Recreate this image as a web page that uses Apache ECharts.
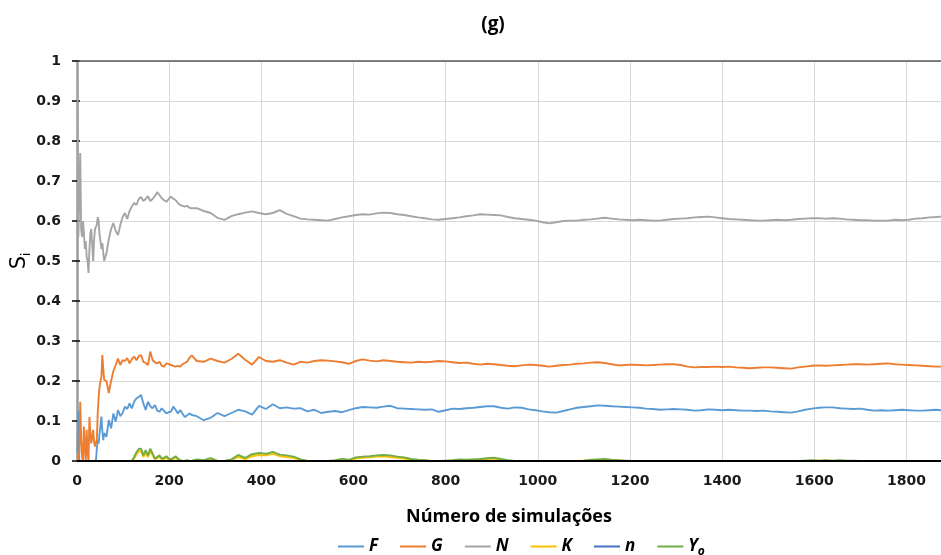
<!DOCTYPE html>
<html>
<head>
<meta charset="utf-8">
<script src="https://cdn.jsdelivr.net/npm/echarts@6/dist/echarts.min.js"></script>
<style>html,body{margin:0;padding:0;background:#fff}#c{width:941px;height:555px}</style>
</head>
<body>
<div id="c"></div>
<script>
// Number of simulations (x values)
const simulations = [
  1,3,5,7,9,11,13,15,17,19,
  21,23,25,27,29,31,33,35,37,39,
  41,43,45,47,49,51,53,55,57,59,
  64,69,74,79,84,89,94,99,104,109,
  114,119,124,129,134,139,144,149,154,159,
  164,169,174,179,184,189,194,199,204,209,
  214,219,224,229,234,239,244,249,
  260,275,290,305,320,335,350,365,380,395,
  410,425,440,455,470,485,500,515,530,545,
  560,575,590,605,620,635,650,665,680,695,
  710,725,740,755,770,785,800,815,830,845,
  860,875,890,905,920,935,950,965,980,995,
  1010,1025,1040,1055,1070,1085,1100,1115,1130,1145,
  1160,1175,1190,1205,1220,1235,1250,1265,1280,1295,
  1310,1325,1340,1355,1370,1385,1400,1415,1430,1445,
  1460,1475,1490,1505,1520,1535,1550,1565,1580,1595,
  1610,1625,1640,1655,1670,1685,1700,1715,1730,1745,
  1760,1775,1790,1805,1820,1835,1850,1865,1875
];

const F = [
  0.02,0.125,0,0,0,0,0,0,0,0,
  0,0,0,0,0,0,0,0,0,0,
  0,0.03,0.052,0.044,0.07,0.09,0.111,0.075,0.052,0.07,
  0.0608,0.1025,0.0817,0.119,0.0983,0.1275,0.112,0.12,0.136,0.13,
  0.144,0.1317,0.148,0.1567,0.16,0.165,0.144,0.1275,0.148,0.137,
  0.1317,0.14,0.126,0.1233,0.1317,0.125,0.119,0.122,0.1233,0.136,
  0.128,0.119,0.1275,0.118,0.11,0.114,0.119,0.115,
  0.112,0.102,0.108,0.120,0.112,0.120,0.128,0.124,0.116,0.138,
  0.130,0.142,0.132,0.134,0.131,0.132,0.124,0.128,0.120,0.123,
  0.125,0.122,0.127,0.132,0.135,0.134,0.133,0.136,0.138,0.132,
  0.131,0.130,0.129,0.128,0.129,0.123,0.127,0.131,0.130,0.132,
  0.133,0.135,0.137,0.137,0.133,0.131,0.134,0.133,0.129,0.127,
  0.124,0.122,0.121,0.125,0.129,0.133,0.135,0.137,0.139,0.138,
  0.137,0.136,0.135,0.134,0.133,0.131,0.130,0.128,0.129,0.130,
  0.129,0.128,0.126,0.127,0.129,0.128,0.127,0.128,0.127,0.126,
  0.126,0.125,0.126,0.124,0.123,0.122,0.121,0.124,0.128,0.131,
  0.133,0.134,0.134,0.132,0.131,0.130,0.131,0.128,0.126,0.127,
  0.126,0.127,0.128,0.127,0.126,0.126,0.127,0.128,0.127
];

const G = [
  0,0,0.02,0.148,0.06,0.01,0,0.086,0.03,0,
  0.078,0.02,0,0.11,0.07,0.044,0.06,0.078,0.05,0.036,
  0.045,0.052,0.12,0.16,0.186,0.20,0.211,0.265,0.23,0.2025,
  0.20,0.17,0.20,0.225,0.24,0.256,0.24,0.252,0.25,0.257,
  0.244,0.255,0.261,0.252,0.262,0.265,0.248,0.245,0.24,0.2735,
  0.2525,0.247,0.244,0.2483,0.238,0.236,0.244,0.242,0.24,0.238,
  0.236,0.238,0.236,0.242,0.245,0.2483,0.258,0.264,
  0.250,0.248,0.256,0.250,0.246,0.255,0.268,0.253,0.241,0.260,
  0.250,0.248,0.252,0.246,0.241,0.248,0.246,0.250,0.252,0.251,
  0.249,0.247,0.243,0.250,0.254,0.251,0.249,0.252,0.250,0.248,
  0.247,0.246,0.248,0.247,0.248,0.250,0.249,0.247,0.245,0.246,
  0.243,0.241,0.243,0.242,0.240,0.238,0.237,0.239,0.241,0.240,
  0.238,0.236,0.238,0.240,0.241,0.243,0.244,0.246,0.247,0.245,
  0.242,0.239,0.240,0.241,0.240,0.239,0.240,0.241,0.242,0.242,
  0.240,0.236,0.234,0.235,0.235,0.236,0.235,0.236,0.234,0.233,
  0.232,0.233,0.234,0.234,0.233,0.232,0.231,0.234,0.236,0.238,
  0.239,0.238,0.239,0.240,0.241,0.242,0.242,0.241,0.242,0.243,
  0.244,0.242,0.241,0.240,0.239,0.238,0.237,0.236,0.236
];

const N = [
  0.95,0.56,0.66,0.77,0.58,0.56,0.60,0.57,0.53,0.55,
  0.51,0.50,0.47,0.53,0.57,0.58,0.54,0.50,0.55,0.58,
  0.575,0.59,0.61,0.60,0.565,0.55,0.53,0.545,0.52,0.50,
  0.52,0.555,0.58,0.595,0.575,0.565,0.59,0.61,0.62,0.605,
  0.625,0.636,0.645,0.64,0.655,0.66,0.65,0.655,0.662,0.65,
  0.655,0.662,0.672,0.665,0.657,0.652,0.648,0.655,0.661,0.656,
  0.652,0.645,0.64,0.638,0.636,0.638,0.633,0.632,
  0.632,0.625,0.620,0.608,0.603,0.612,0.617,0.621,0.624,0.620,
  0.617,0.620,0.627,0.618,0.612,0.606,0.604,0.603,0.602,0.601,
  0.605,0.609,0.612,0.615,0.617,0.616,0.619,0.621,0.620,0.617,
  0.615,0.612,0.609,0.607,0.604,0.603,0.605,0.607,0.609,0.612,
  0.614,0.617,0.616,0.615,0.614,0.610,0.607,0.605,0.603,0.601,
  0.597,0.594,0.597,0.600,0.601,0.601,0.603,0.604,0.606,0.608,
  0.606,0.604,0.603,0.602,0.603,0.602,0.601,0.601,0.603,0.605,
  0.606,0.607,0.609,0.610,0.611,0.609,0.607,0.605,0.604,0.603,
  0.602,0.601,0.601,0.602,0.603,0.602,0.603,0.605,0.606,0.607,
  0.607,0.606,0.607,0.606,0.604,0.603,0.602,0.602,0.601,0.601,
  0.601,0.603,0.602,0.603,0.606,0.607,0.609,0.610,0.611
];

const K = [
  0,0,0,0,0,0,0,0,0,0,
  0,0,0,0,0,0,0,0,0,0,
  0,0,0,0,0,0,0,0,0,0,
  0,0,0,0,0,0,0,0,0,0,
  0,0,0.006,0.016,0.024,0.025,0.010,0.02,0.01,0.024,
  0.014,0.004,0.007,0.01,0.004,0.005,0.008,0.004,0.002,0.005,
  0.008,0.004,0.001,0,0,0.001,0,0,
  0.002,0.001,0.004,0,0,0.002,0.010,0.005,0.012,0.015,
  0.014,0.018,0.012,0.010,0.008,0.002,0,0,0,0,
  0.001,0.003,0.002,0.006,0.008,0.009,0.011,0.012,0.010,0.008,
  0.006,0.003,0.002,0.001,0,0,0,0.001,0.002,0.002,
  0.003,0.003,0.005,0.006,0.003,0.001,0,0,0,0,
  0,0,0,0,0,0,0.001,0.002,0.003,0.003,
  0.002,0.001,0,0,0,0,0,0,0,0,
  0,0,0,0,0,0,0,0,0,0,
  0,0,0,0,0,0,0,0,0,0.001,
  0.001,0.001,0,0.001,0,0,0,0,0,0,
  0,0,0,0,0,0,0,0,0
];

const n = [
  0,0,0,0,0,0,0,0,0,0,
  0,0,0,0,0,0,0,0,0,0,
  0,0,0,0,0,0,0,0,0,0,
  0,0,0,0,0,0,0,0,0,0,
  0,0,0,0,0,0,0,0,0,0,
  0,0,0,0,0,0,0,0,0,0,
  0,0,0,0,0,0,0,0,
  0,0,0,0,0,0,0,0,0,0,
  0,0,0,0,0,0,0,0,0,0,
  0,0,0,0,0,0,0,0,0,0,
  0,0,0,0,0,0,0,0,0,0,
  0,0,0,0,0,0,0,0,0,0,
  0,0,0,0,0,0,0,0,0,0,
  0,0,0,0,0,0,0,0,0,0,
  0,0,0,0,0,0,0,0,0,0,
  0,0,0,0,0,0,0,0,0,0,
  0,0,0,0,0,0,0,0,0,0,
  0,0,0,0,0,0,0,0,0
];

const Yo = [
  0,0,0,0,0,0,0,0,0,0,
  0,0,0,0,0,0,0,0,0,0,
  0,0,0,0,0,0,0,0,0,0,
  0,0,0,0,0,0,0,0,0,0,
  0,0,0.01,0.022,0.03,0.031,0.014,0.027,0.014,0.031,
  0.019,0.006,0.01,0.014,0.006,0.008,0.012,0.006,0.004,0.008,
  0.012,0.006,0.002,0,0,0.002,0,0,
  0.004,0.002,0.007,0,0,0.004,0.015,0.008,0.017,0.020,
  0.018,0.023,0.016,0.014,0.011,0.004,0,0,0,0,
  0.002,0.005,0.003,0.009,0.011,0.012,0.014,0.015,0.014,0.011,
  0.009,0.005,0.003,0.002,0,0,0.001,0.002,0.004,0.003,
  0.004,0.005,0.007,0.008,0.005,0.002,0,0,0,0,
  0,0,0,0,0,0,0.001,0.003,0.004,0.005,
  0.003,0.002,0.001,0,0,0,0,0,0,0,
  0,0,0,0,0,0,0,0,0,0,
  0,0,0,0,0,0,0,0,0.001,0.002,
  0.001,0.002,0.001,0.002,0.001,0.001,0,0,0,0,
  0,0,0,0,0,0,0,0,0
];

const seriesNames = ['F', 'G', 'N', 'K', 'n', 'Yo'];
const seriesValues = { F: F, G: G, N: N, K: K, n: n, Yo: Yo };
const colors = { F: '#5B9BD5', G: '#ED7D31', N: '#A5A5A5', K: '#FFC000', n: '#4472C4', Yo: '#70AD47' };

function pairs(vals) {
  return simulations.map((x, i) => [x, vals[i]]);
}

const chart = echarts.init(document.getElementById('c'), null, { renderer: 'canvas' });

const series = seriesNames.map((name) => ({
  name: name,
  type: 'line',
  data: pairs(seriesValues[name]),
  showSymbol: false,
  symbol: 'none',
  lineStyle: { width: 1.9, color: colors[name] },
  itemStyle: { color: colors[name] },
  emphasis: { disabled: true },
  animation: false
}));
series[series.length - 1].markLine = {
  silent: true,
  symbol: 'none',
  animation: false,
  label: { show: false },
  data: [
    { yAxis: 0, lineStyle: { color: '#000', width: 2, type: 'solid' } },
    { yAxis: 1, lineStyle: { color: '#595959', width: 1.5, type: 'solid' } }
  ]
};

const tickFont = { fontFamily: 'DejaVu Sans', fontWeight: 'bold', fontSize: 14, color: '#1a1a1a' };

chart.setOption({
  animation: false,
  backgroundColor: '#ffffff',
  title: {
    text: '(g)', left: 488, top: 10, textAlign: 'center',
    textStyle: { fontFamily: 'Open Sans', fontWeight: 'bold', fontSize: 19, color: '#000' }
  },
  grid: { left: 77, right: 0, top: 61, height: 400, containLabel: false, outerBoundsMode: 'none' },
  legend: {
    data: seriesNames,
    left: 333, top: 533,
    icon: 'rect', itemWidth: 26, itemHeight: 2, itemGap: 22,
    selectedMode: false,
    formatter: (name) => name === 'Yo' ? '{b|Y}{s|o}' : '{b|' + name + '}',
    textStyle: {
      color: '#000',
      rich: {
        b: { fontFamily: 'Open Sans', fontWeight: 'bold', fontStyle: 'italic', fontSize: 17, color: '#000', lineHeight: 22 },
        s: { fontFamily: 'Open Sans', fontWeight: 'bold', fontStyle: 'italic', fontSize: 12, color: '#000', lineHeight: 22, verticalAlign: 'bottom', padding: [6, 0, 0, 0] }
      }
    }
  },
  xAxis: [{
    type: 'value', min: 0, max: 1875, interval: 200,
    axisLine: { show: false },
    axisTick: { show: false },
    axisLabel: Object.assign({ margin: 13, showMaxLabel: false, formatter: (v) => String(v) }, tickFont),
    splitLine: { show: true, lineStyle: { color: '#d9d9d9', width: 1 } },
    name: 'Número de simulações',
    nameLocation: 'middle', nameGap: 47,
    nameTextStyle: { fontFamily: 'Open Sans', fontWeight: 'bold', fontSize: 18, color: '#000' }
  }],
  yAxis: [{
    type: 'value', min: 0, max: 1, interval: 0.1,
    axisLine: { show: true, lineStyle: { color: '#9a9a9a', width: 2.5 } },
    axisTick: { show: true, length: 5, lineStyle: { color: '#000', width: 1.5 } },
    axisLabel: Object.assign({ margin: 16, formatter: (v) => String(Math.round(v * 10) / 10) }, tickFont),
    splitLine: { show: true, lineStyle: { color: '#d9d9d9', width: 1 } },
    name: '{s|S}{i|i}',
    nameLocation: 'middle', nameRotate: 90, nameGap: 44,
    nameMoveOverlap: false,
    nameTextStyle: {
      rich: {
        s: { fontFamily: 'DejaVu Sans', fontSize: 21, color: '#000', lineHeight: 26 },
        i: { fontFamily: 'DejaVu Sans', fontSize: 12, color: '#000', lineHeight: 26, verticalAlign: 'bottom', padding: [8, 0, 0, 0] }
      }
    }
  }, {
    type: 'value', min: 0, max: 1, interval: 0.1,
    position: 'right', offset: -864,
    axisLine: { show: false },
    axisTick: { show: true, inside: false, length: 3, lineStyle: { color: '#000', width: 1.5 } },
    axisLabel: { show: false },
    splitLine: { show: false }
  }],
  series: series
});
</script>
</body>
</html>
